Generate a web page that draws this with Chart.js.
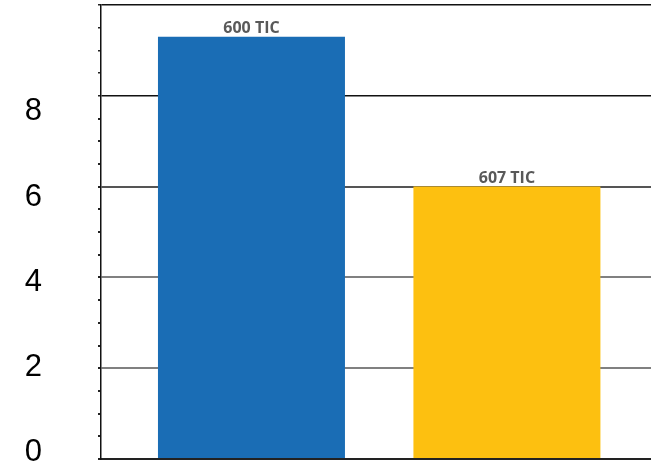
<!DOCTYPE html>
<html>
<head>
<meta charset="utf-8">
<script src="https://cdn.jsdelivr.net/npm/chart.js@4"></script>
<style>
  html, body { margin: 0; padding: 0; background: #fff; }
  #wrap { width: 651px; height: 461px; position: relative; }
</style>
</head>
<body>
<div id="wrap"><canvas id="chart"></canvas></div>
<script>
// Chart data
const categories = ['600 TIC', '607 TIC'];
const values = [9.3, 6.0];
const barColors = ['#1a6db5', '#fdc010'];
const tickLabels = [0, 2, 4, 6, 8];

// Draw the category name above each bar
const barLabelPlugin = {
    id: 'barLabels',
    afterDatasetsDraw(chart) {
        const ctx = chart.ctx;
        const meta = chart.getDatasetMeta(0);
        ctx.save();
        ctx.font = 'bold 16px "Open Sans"';
        ctx.fillStyle = '#595959';
        ctx.textAlign = 'center';
        ctx.textBaseline = 'alphabetic';
        meta.data.forEach(function(bar, i) {
            ctx.fillText(categories[i], bar.x, bar.y - 4);
        });
        ctx.restore();
    }
};

function gridColor(v) {
    if (v % 2 !== 0) return 'rgba(0,0,0,0)';
    if (v >= 8) return '#111';
    if (v === 6) return '#555';
    return '#808080';
}

// keep the axis labels from pushing the plot area in
function noPadding(scale) {
    scale.paddingTop = 0;
    scale.paddingBottom = 0;
}

const ctx = document.getElementById('chart').getContext('2d');
new Chart(ctx, {
    type: 'bar',
    data: {
        datasets: [{
            data: values.map((v, i) => ({ x: i + 1, y: v })),
            backgroundColor: barColors,
            borderWidth: 0,
            categoryPercentage: 1,
            barPercentage: 0.732
        }]
    },
    options: {
        responsive: true,
        maintainAspectRatio: false,
        animation: false,
        layout: { padding: { top: 5, bottom: 2, left: 0, right: 0 } },
        plugins: {
            legend: { display: false },
            tooltip: { enabled: false }
        },
        scales: {
            x: {
                type: 'linear',
                offset: false,
                min: 0.411,
                max: 2.564,
                afterBuildTicks: function(scale) {
                    scale.ticks = categories.map((c, i) => ({ value: i + 1 }));
                },
                ticks: { display: false },
                grid: { display: true, offset: false, drawOnChartArea: false, drawTicks: false },
                border: { display: true, color: '#222', width: 2 }
            },
            y: {
                position: 'left',
                weight: 0,
                min: 0,
                max: 10,
                ticks: { display: false, stepSize: 0.5 },
                afterFit: function(scale) { scale.width = 59; noPadding(scale); },
                grid: {
                    color: function(c) { return gridColor(c.tick.value); },
                    lineWidth: function(c) { return c.tick.value >= 8 ? 1.5 : 2; },
                    tickColor: '#222',
                    tickLength: 3
                },
                border: { display: true, color: '#111', width: 1.5 }
            },
            yLabels: {
                position: 'left',
                weight: 1,
                min: -0.15,
                max: 10.51,
                afterBuildTicks: function(scale) {
                    scale.ticks = tickLabels.map(v => ({ value: v }));
                },
                afterFit: function(scale) { scale.width = 42; noPadding(scale); },
                ticks: {
                    color: '#000',
                    padding: 0,
                    font: { family: '"Liberation Sans", Arial, sans-serif', size: 31 }
                },
                grid: { display: false, drawTicks: false },
                border: { display: false }
            }
        }
    },
    plugins: [barLabelPlugin]
});
</script>
</body>
</html>
